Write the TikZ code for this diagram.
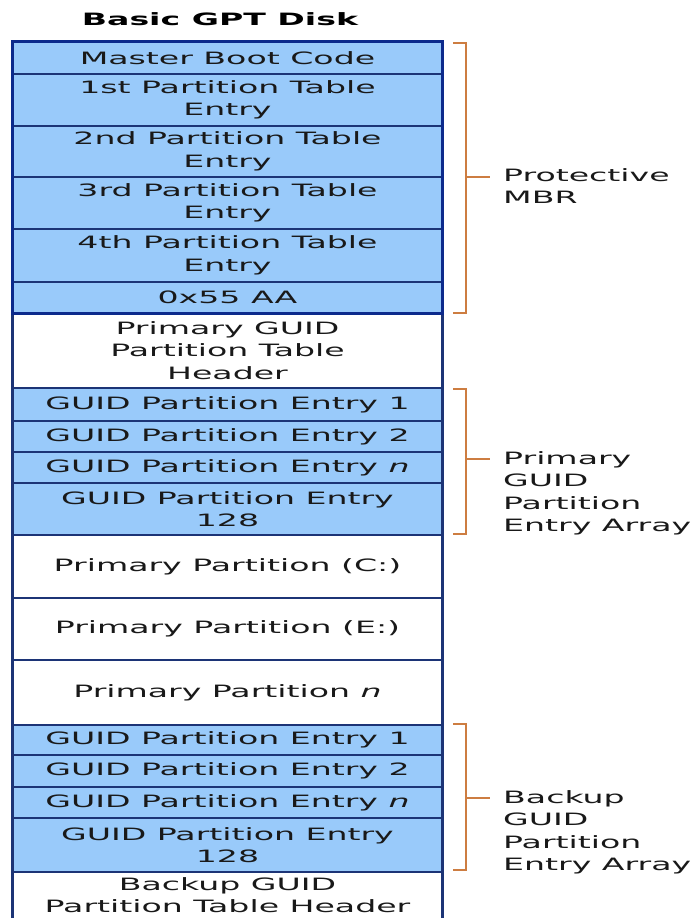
\documentclass[tikz,border=0pt]{standalone}
\usepackage{fontspec}
\setmainfont{DejaVu Sans}[FakeStretch=1.95]
\usetikzlibrary{calc}
\definecolor{cellblue}{RGB}{153,202,250}
\definecolor{navy}{RGB}{28,52,118}
\definecolor{mbrblue}{RGB}{12,42,140}
\definecolor{brk}{RGB}{205,125,65}
\newcommand\rowfont{\fontsize{17}{22.5}\selectfont}
\newcommand\cellrow[5]{\node[#1, minimum height={#4-#3}] (#2) at (227.5,{(#3+#4)/2}) {#5};}
\begin{document}
\begin{tikzpicture}[x=1pt,y=-1pt,
  cell/.style={draw=navy, line width=1.3pt, minimum width=429pt, inner sep=0pt, align=center, font=\rowfont, text=black!90},
  bluecell/.style={cell, fill=cellblue},
  whitecell/.style={cell, fill=white},
  bracketline/.style={draw=brk, line width=1.6pt},
  lbl/.style={font=\rowfont, align=left, inner sep=0pt, anchor=north west, text=black!90}]
\useasboundingbox (0,0) rectangle (696,918);
\clip (0,0) rectangle (696,918);
\fill[white] (0,0) rectangle (696,918);

\node[font=\fontsize{17}{20}\bfseries\selectfont, text=black] (title) at (220,19) {Basic GPT Disk};

% Protective MBR
\cellrow{bluecell}{mbr1}{42}{74}{Master Boot Code}
\cellrow{bluecell}{mbr2}{74}{126}{1st Partition Table\\Entry}
\cellrow{bluecell}{mbr3}{126}{177}{2nd Partition Table\\Entry}
\cellrow{bluecell}{mbr4}{177}{229}{3rd Partition Table\\Entry}
\cellrow{bluecell}{mbr5}{229}{282}{4th Partition Table\\Entry}
\cellrow{bluecell}{mbr6}{282}{313}{0x55 AA}
% Primary header
\cellrow{whitecell}{phdr}{313}{388}{Primary GUID\\Partition Table\\Header}
% Primary entries
\cellrow{bluecell}{pe1}{388}{421}{GUID Partition Entry 1}
\cellrow{bluecell}{pe2}{421}{452}{GUID Partition Entry 2}
\cellrow{bluecell}{pen}{452}{483}{GUID Partition Entry \textit{n}}
\cellrow{bluecell}{pe128}{483}{535}{GUID Partition Entry\\128}
% Partitions
\cellrow{whitecell}{partc}{535}{598}{Primary Partition (C:)}
\cellrow{whitecell}{parte}{598}{660}{Primary Partition (E:)}
\cellrow{whitecell}{partn}{660}{725}{Primary Partition \textit{n}}
% Backup entries
\cellrow{bluecell}{be1}{725}{755}{GUID Partition Entry 1}
\cellrow{bluecell}{be2}{755}{787}{GUID Partition Entry 2}
\cellrow{bluecell}{ben}{787}{818}{GUID Partition Entry \textit{n}}
\cellrow{bluecell}{be128}{818}{872}{GUID Partition Entry\\128}
% Backup header (continues below the picture)
\node[whitecell, minimum height=80pt, anchor=north] (bhdr) at (227.5,872) {};
\node[font=\rowfont, align=center, inner sep=0pt, anchor=north, text=black!90] (bhdrtxt) at (227.5,877) {Backup GUID\\Partition Table Header};

% outer frame
\draw[navy, line width=2.2pt] (mbr1.north west) -- (bhdr.south west);
\draw[navy, line width=2.2pt] (mbr1.north east) -- (bhdr.south east);
\draw[mbrblue, line width=3.5pt] (mbr1.north west) rectangle (mbr6.south east);

% brackets
\coordinate (mt) at (466,43);  \coordinate (mb) at (466,313); \coordinate (mm) at (466,177);
\coordinate (pt) at (466,389); \coordinate (pb) at (466,534); \coordinate (pm) at (466,459);
\coordinate (bt) at (466,724); \coordinate (bb) at (466,870); \coordinate (bm) at (466,798);

\draw[bracketline] ($(mt)+(-13,0)$) -- (mt) -- (mb) -- ($(mb)+(-13,0)$);
\draw[bracketline] ($(pt)+(-13,0)$) -- (pt) -- (pb) -- ($(pb)+(-13,0)$);
\draw[bracketline] ($(bt)+(-13,0)$) -- (bt) -- (bb) -- ($(bb)+(-13,0)$);

\node[lbl] (lmbr) at (503,168) {Protective\\MBR};
\node[lbl] (lpri) at (503,451) {Primary\\GUID\\Partition\\Entry Array};
\node[lbl] (lbak) at (503,790) {Backup\\GUID\\Partition\\Entry Array};

\draw[bracketline] (mm) -- ($(mm)+(24,0)$);
\draw[bracketline] (pm) -- ($(pm)+(24,0)$);
\draw[bracketline] (bm) -- ($(bm)+(24,0)$);
\end{tikzpicture}
\end{document}
